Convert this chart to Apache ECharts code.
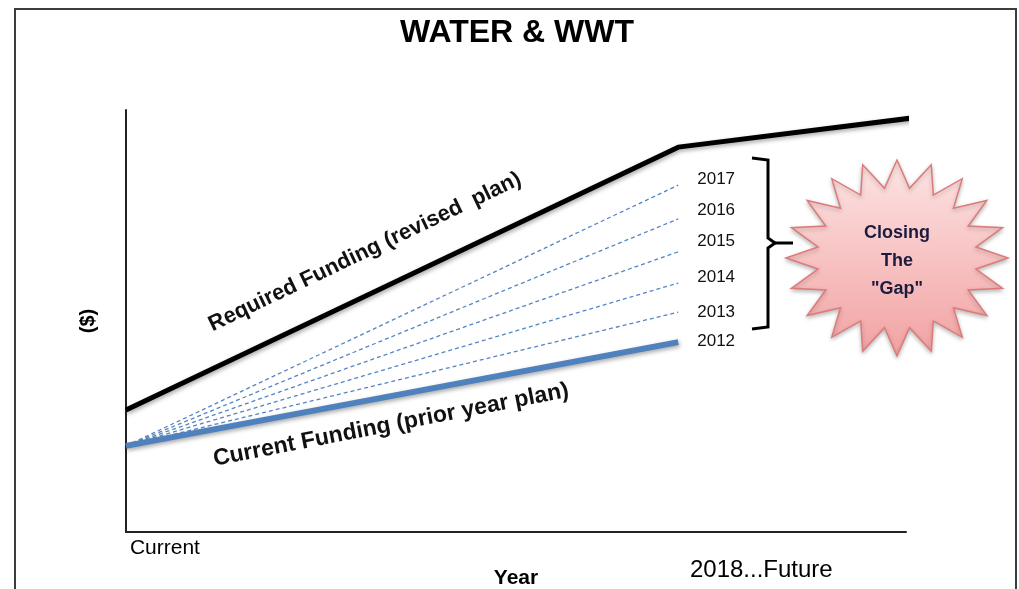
<!DOCTYPE html>
<html>
<head>
<meta charset="utf-8">
<title>WATER & WWT</title>
<script src="https://cdn.jsdelivr.net/npm/echarts@6/dist/echarts.min.js"></script>
<style>
html, body { margin: 0; padding: 0; background: #fff; }
#main { width: 1019px; height: 589px; }
</style>
</head>
<body>
<div id="main"></div>
<script>
// x: 0 = current year, 70.8 = 2018 (end of plan), past 100 = future
var xPoints = [0, 70.8, 101.6];
var requiredFunding = [28.9, 91.2, 98.3];   // revised plan
var currentStart = 20.4;                     // all plan lines start here
var planYears = ['2012', '2013', '2014', '2015', '2016', '2017'];
var planEnd = [45.0, 52.1, 59.0, 66.4, 74.2, 82.2];
var tickLabels = ['Current', '2018...Future'];
var tickValues = [0.5, 72.3];

var labelShift = [-1, 0, -6, -10, -9, -6]; // nudges for the year labels

var chart = echarts.init(document.getElementById('main'));

var shadow = { shadowColor: 'rgba(0,0,0,0.35)', shadowBlur: 4, shadowOffsetX: 1, shadowOffsetY: 2 };

var series = [];
series.push({
    name: 'Required Funding',
    type: 'line',
    data: xPoints.map(function (x, i) { return [x, requiredFunding[i]]; }),
    symbol: 'none',
    clip: false,
    lineStyle: Object.assign({ color: '#000', width: 5 }, shadow),
    z: 5
});
planYears.forEach(function (yr, i) {
    series.push({
        name: yr,
        type: 'line',
        data: [[xPoints[0], currentStart], [xPoints[1], planEnd[i]]],
        symbol: 'none',
        clip: false,
        lineStyle: i === 0
            ? Object.assign({ color: '#4f81bd', width: 6 }, shadow)
            : { color: '#5585c4', width: 1.3, type: [4, 3] },
        endLabel: {
            show: true,
            formatter: yr,
            distance: 19,
            offset: [0, labelShift[i]],
            color: '#111',
            fontSize: 17,
            fontFamily: 'Liberation Sans'
        },
        z: i === 0 ? 4 : 3
    });
});

// 20 point star for the call-out (decoration)
var star = [];
var cx = 897, cy = 258, n = 20;
for (var k = 0; k < n * 2; k++) {
    var a = -Math.PI / 2 + k * Math.PI / n;
    var r = k % 2 === 0 ? 1 : 0.72;
    star.push([cx + Math.cos(a) * 111 * r, cy + Math.sin(a) * 98 * r]);
}

var option = {
    animation: false,
    title: {
        text: 'WATER & WWT',
        left: 517,
        top: 17,
        textAlign: 'center',
        padding: 0,
        textStyle: { fontFamily: 'Liberation Sans', fontWeight: 'bold', fontSize: 32, color: '#000' }
    },
    grid: { left: 126, top: 110, width: 780, height: 422, outerBoundsMode: 'none' },
    xAxis: {
        type: 'value',
        min: 0,
        max: 100,
        name: 'Year',
        nameLocation: 'middle',
        nameGap: 36,
        nameMoveOverlap: false,
        nameTextStyle: { fontFamily: 'Liberation Sans', fontWeight: 'bold', fontSize: 21, color: '#000' },
        axisLine: { show: true, lineStyle: { color: '#222', width: 2 } },
        axisTick: { show: false },
        splitLine: { show: false },
        axisLabel: {
            customValues: tickValues,
            align: 'left',
            margin: 6,
            formatter: function (v) { return v === tickValues[0] ? '{a|' + tickLabels[0] + '}' : '{b|' + tickLabels[1] + '}'; },
            rich: {
                a: { fontFamily: 'Liberation Sans', fontSize: 21, color: '#000' },
                b: { fontFamily: 'Liberation Sans', fontSize: 24, color: '#000', padding: [20, 0, 0, 0] }
            }
        }
    },
    yAxis: {
        type: 'value',
        min: 0,
        max: 100,
        name: '($)',
        nameLocation: 'middle',
        nameGap: 28,
        nameMoveOverlap: false,
        nameTextStyle: { fontFamily: 'Liberation Sans', fontWeight: 'bold', fontSize: 20, color: '#000' },
        axisLine: { show: true, lineStyle: { color: '#222', width: 2 } },
        axisTick: { show: false },
        axisLabel: { show: false },
        splitLine: { show: false }
    },
    series: series,
    graphic: [
        {
            type: 'rect',
            shape: { x: 15, y: 9, width: 1001, height: 620 },
            style: { fill: 'none', stroke: '#3c3c3c', lineWidth: 2 },
            silent: true
        },
        {
            type: 'text',
            x: 365, y: 252,
            rotation: 25.5 * Math.PI / 180,
            style: {
                text: 'Required Funding (revised  plan)',
                fontFamily: 'Liberation Sans', fontWeight: 'bold', fontSize: 22,
                fill: '#111', align: 'center', verticalAlign: 'middle'
            }
        },
        {
            type: 'text',
            x: 391, y: 425,
            rotation: 11 * Math.PI / 180,
            style: {
                text: 'Current Funding (prior year plan)',
                fontFamily: 'Liberation Sans', fontWeight: 'bold', fontSize: 23,
                fill: '#111', align: 'center', verticalAlign: 'middle'
            }
        },
        {
            // right curly bracket grouping the plan years
            type: 'polyline',
            shape: { points: [[752, 158], [768, 160], [768, 238], [775, 243], [768, 248], [768, 327], [752, 329]] },
            style: { stroke: '#000', lineWidth: 3, fill: 'none' }
        },
        {
            type: 'line',
            shape: { x1: 774, y1: 243, x2: 793, y2: 243 },
            style: { stroke: '#000', lineWidth: 3 }
        },
        {
            type: 'polygon',
            shape: { points: star },
            style: {
                fill: new echarts.graphic.LinearGradient(0, 0, 0, 1, [
                    { offset: 0, color: '#fde4e4' },
                    { offset: 1, color: '#f2a2a2' }
                ]),
                stroke: '#de7a7a',
                lineWidth: 1.5,
                shadowColor: 'rgba(0,0,0,0.25)', shadowBlur: 4, shadowOffsetY: 2
            }
        },
        {
            type: 'text',
            x: 897, y: 261,
            style: {
                text: 'Closing\nThe\n"Gap"',
                fontFamily: 'Liberation Sans', fontWeight: 'bold', fontSize: 18, lineHeight: 28,
                fill: '#1b1b40', align: 'center', verticalAlign: 'middle'
            }
        }
    ]
};

chart.setOption(option);
</script>
</body>
</html>
